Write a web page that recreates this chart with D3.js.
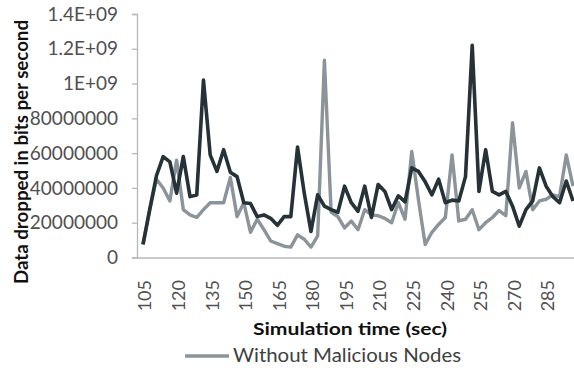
<!DOCTYPE html>
<html>
<head>
<meta charset="utf-8">
<script src="https://cdn.jsdelivr.net/npm/d3@7"></script>
<style>
  html, body { margin: 0; padding: 0; background: #fff; }
  svg { display: block; }
  text { font-family: Lato, "Open Sans", sans-serif; }
</style>
</head>
<body>
<svg id="chart" width="574" height="368"></svg>
<script>
// ---- data ----
const times = [105,108,111,114,117,120,123,126,129,132,135,138,141,144,147,150,153,156,159,162,
  165,168,171,174,177,180,183,186,189,192,195,198,201,204,207,210,213,216,219,222,
  225,228,231,234,237,240,243,246,249,252,255,258,261,264,267,270,273,276,279,282,
  285,288,291,294,297];

const withMalicious = [0.75e8,2.75e8,4.7e8,5.8e8,5.5e8,3.7e8,5.8e8,3.5e8,3.6e8,10.2e8,
  5.9e8,4.95e8,6.2e8,4.9e8,4.65e8,3.15e8,3.1e8,2.35e8,2.45e8,2.25e8,
  1.85e8,2.35e8,2.35e8,6.35e8,3.7e8,1.5e8,3.6e8,2.95e8,2.75e8,2.6e8,
  4.1e8,3.15e8,2.65e8,4.1e8,2.3e8,4.2e8,3.8e8,2.75e8,3.55e8,3.2e8,
  5.15e8,4.95e8,4.35e8,3.6e8,4.5e8,3.15e8,3.3e8,3.25e8,4.65e8,12.2e8,
  3.8e8,6.2e8,3.8e8,3.6e8,3.8e8,2.95e8,1.8e8,2.75e8,3.25e8,5.15e8,
  4.1e8,3.5e8,3.15e8,4.4e8,3.25e8];

const withoutMalicious = [0.75e8,2.75e8,4.5e8,4.0e8,3.25e8,5.6e8,2.75e8,2.45e8,2.3e8,2.75e8,
  3.15e8,3.15e8,3.15e8,4.6e8,2.35e8,3.15e8,1.45e8,2.2e8,1.6e8,0.95e8,
  0.8e8,0.65e8,0.6e8,1.3e8,1.05e8,0.6e8,1.25e8,11.35e8,2.6e8,2.35e8,
  1.7e8,2.1e8,1.6e8,2.75e8,2.45e8,2.4e8,2.25e8,2.0e8,3.15e8,2.2e8,
  6.1e8,3.3e8,0.75e8,1.45e8,1.9e8,2.3e8,5.9e8,2.1e8,2.2e8,2.75e8,
  1.6e8,2.0e8,2.3e8,2.7e8,2.4e8,7.75e8,4.0e8,4.95e8,2.75e8,3.25e8,
  3.35e8,3.6e8,3.5e8,5.9e8,4.1e8];

const yTickValues = [0,2e8,4e8,6e8,8e8,1e9,1.2e9,1.4e9];
const yTickLabels = ["0","20000000","40000000","60000000","80000000","1E+09","1.2E+09","1.4E+09"];
const xTickValues = [105,120,135,150,165,180,195,210,225,240,255,270,285];
const legendLabel = "Without Malicious Nodes";
const xTitle = "Simulation time (sec)";
const yTitle = "Data dropped in bits per second";

// ---- layout ----
const svg = d3.select("#chart");
const plotLeft = 137, plotRight = 574, plotTop = 14, plotBottom = 257.5;

const x = d3.scaleLinear().domain([105, 297]).range([143, 573]);
const y = d3.scaleLinear().domain([0, 1.4e9]).range([plotBottom, plotTop]);

svg.append("rect").attr("width", 574).attr("height", 368).attr("fill", "#fff");

// y axis
const yAxis = d3.axisLeft(y).tickValues(yTickValues).tickSize(5).tickPadding(14)
  .tickFormat((d, i) => yTickLabels[i]);
const gy = svg.append("g").attr("transform", `translate(${plotLeft},0)`).call(yAxis);
gy.select(".domain").attr("stroke", "#b8b8b8").attr("stroke-width", 1.3);
gy.selectAll(".tick line").attr("stroke", "#b8b8b8").attr("stroke-width", 1.3);
gy.selectAll(".tick text").attr("font-size", 19).attr("fill", "#505050")
  .attr("font-family", "Lato, 'Open Sans', sans-serif");

// x axis line
svg.append("line").attr("x1", plotLeft).attr("x2", plotRight)
  .attr("y1", plotBottom + 0.5).attr("y2", plotBottom + 0.5)
  .attr("stroke", "#b8b8b8").attr("stroke-width", 1.5);

// x tick labels (rotated)
svg.append("g").selectAll("text").data(xTickValues).join("text")
  .attr("transform", d => `translate(${x(d) + 2},280) rotate(-90)`)
  .attr("text-anchor", "end").attr("dy", "0.35em")
  .attr("font-size", 18).attr("fill", "#505050")
  .text(d => d);

// lines
const line = d3.line().x((d, i) => x(times[i])).y(d => y(d));
svg.append("path").datum(withoutMalicious).attr("d", line)
  .attr("fill", "none").attr("stroke", "#8a949a").attr("stroke-width", 3.4)
  .attr("stroke-linejoin", "round");
svg.append("path").datum(withMalicious).attr("d", line)
  .attr("fill", "none").attr("stroke", "#253237").attr("stroke-width", 3.6)
  .attr("stroke-linejoin", "round");

// titles
svg.append("text").attr("x", 350).attr("y", 335).attr("text-anchor", "middle")
  .attr("font-size", 17).attr("font-weight", "bold").attr("fill", "#111")
  .attr("textLength", 194).attr("lengthAdjust", "spacingAndGlyphs")
  .text(xTitle);
svg.append("text").attr("transform", "translate(28,152) rotate(-90)")
  .attr("text-anchor", "middle").attr("font-size", 18.5).attr("font-weight", "bold")
  .attr("fill", "#111").attr("textLength", 264).attr("lengthAdjust", "spacingAndGlyphs")
  .text(yTitle);

// legend
svg.append("line").attr("x1", 185).attr("x2", 229).attr("y1", 356).attr("y2", 356)
  .attr("stroke", "#8a949a").attr("stroke-width", 3.6);
svg.append("text").attr("x", 233).attr("y", 362).attr("font-size", 18.5)
  .attr("fill", "#404040").attr("textLength", 228).attr("lengthAdjust", "spacingAndGlyphs")
  .text(legendLabel);
</script>
</body>
</html>
